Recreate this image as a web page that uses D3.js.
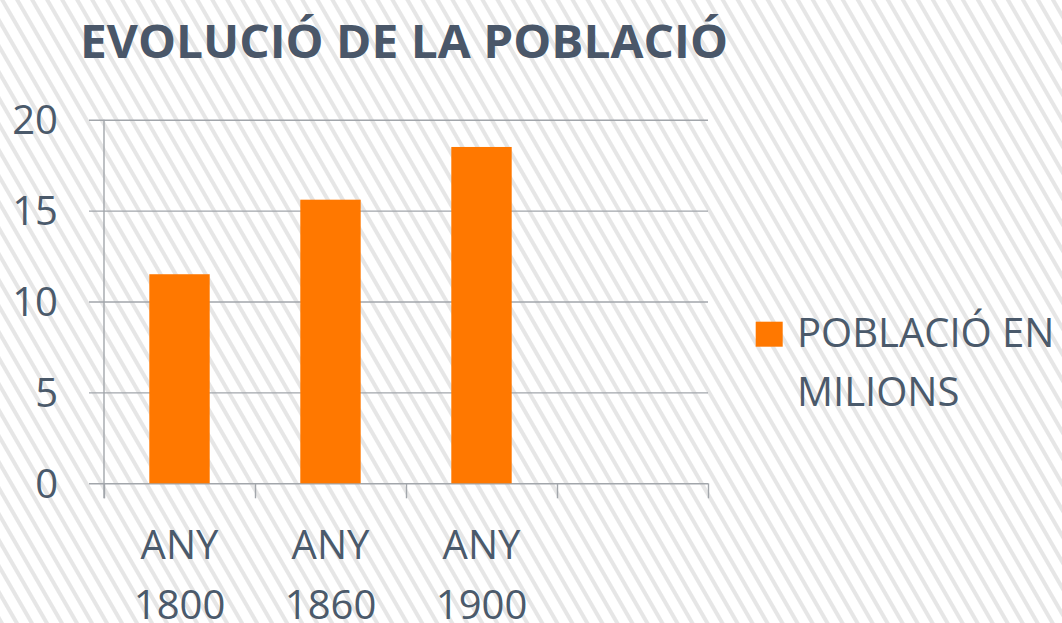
<!DOCTYPE html>
<html>
<head>
<meta charset="utf-8">
<script src="https://cdn.jsdelivr.net/npm/d3@7"></script>
<style>
  html, body { margin: 0; padding: 0; background: #fff; }
  svg { display: block; }
</style>
</head>
<body>
<svg id="chart" width="1062" height="623"></svg>
<script>
const title = "EVOLUCIÓ DE LA POBLACIÓ";
const categories = ["ANY 1800", "ANY 1860", "ANY 1900", ""];
const values = [11.5, 15.6, 18.5, null];
const yTicks = [0, 5, 10, 15, 20];
const seriesName = ["POBLACIÓ EN", "MILIONS"];

const W = 1062, H = 623;
const plot = { left: 104, right: 708, top: 119.7, bottom: 483.3 };
const textColor = "#4b5a6b";
const gridColor = "#a2a6ab";
const barColor = "#ff7800";
const font = "'Open Sans', 'DejaVu Sans', sans-serif";

const svg = d3.select("#chart");

// hatched background
const defs = svg.append("defs");
const pat = defs.append("pattern")
  .attr("id", "hatch")
  .attr("patternUnits", "userSpaceOnUse")
  .attr("width", 13).attr("height", 13)
  .attr("patternTransform", "rotate(-30)");
pat.append("rect").attr("width", 13).attr("height", 13).attr("fill", "#ffffff");
pat.append("rect").attr("x", 0).attr("width", 4).attr("height", 13).attr("fill", "#e6e6e6");
svg.append("rect").attr("width", W).attr("height", H).attr("fill", "url(#hatch)");

// scales
const x = d3.scaleBand().domain(categories).range([plot.left, plot.right]).padding(0);
const xIdx = d3.scaleLinear().domain([0, categories.length]).range([plot.left, plot.right]);
const y = d3.scaleLinear().domain([0, 20]).range([plot.bottom, plot.top]);

// gridlines + y labels
const yAxis = svg.append("g")
  .attr("transform", `translate(${plot.left - 15},0)`)
  .call(d3.axisLeft(y).tickValues(yTicks).tickSize(-(plot.right - plot.left + 15)).tickPadding(31));
yAxis.select(".domain").remove();
yAxis.selectAll(".tick line").attr("stroke", gridColor).attr("stroke-width", 1.4);
yAxis.selectAll(".tick text")
  .attr("fill", textColor).attr("font-family", font).attr("font-size", 40)
  .attr("dy", "0.35em");

// x axis tick marks at band boundaries
const xTicks = svg.append("g")
  .attr("transform", `translate(0,${plot.bottom})`)
  .call(d3.axisBottom(xIdx).tickValues(d3.range(categories.length + 1)).tickSize(15).tickFormat(""));
xTicks.select(".domain").remove();
xTicks.selectAll(".tick line").attr("stroke", gridColor).attr("stroke-width", 1.4);

// axis lines
svg.append("line")
  .attr("x1", plot.left).attr("x2", plot.left)
  .attr("y1", plot.top).attr("y2", plot.bottom + 15)
  .attr("stroke", gridColor).attr("stroke-width", 1.4);

// bars
const barW = x.bandwidth() * 0.4;
svg.append("g").selectAll("rect")
  .data(categories.map((c, i) => ({ c, v: values[i] })).filter(d => d.v != null))
  .join("rect")
  .attr("x", d => x(d.c) + x.bandwidth() / 2 - barW / 2)
  .attr("width", barW)
  .attr("y", d => y(d.v))
  .attr("height", d => y(0) - y(d.v))
  .attr("fill", barColor);

// x labels (two lines)
const xl = svg.append("g")
  .attr("transform", `translate(0,${plot.bottom})`)
  .call(d3.axisBottom(x).tickSize(0).tickFormat(""));
xl.select(".domain").remove();
xl.selectAll(".tick").each(function(d) {
  if (!d) return;
  const parts = d.split(" ");
  const t = d3.select(this).append("text")
    .attr("fill", textColor).attr("font-family", font).attr("font-size", 40)
    .attr("text-anchor", "middle");
  parts.forEach((p, i) => {
    t.append("tspan").attr("x", 0).attr("y", 76 + i * 60).text(p);
  });
});

// title
const tt = svg.append("text")
  .attr("x", 80).attr("y", 58)
  .attr("fill", "#4a5769").attr("font-family", font).attr("font-weight", 700)
  .attr("font-size", 46)
  .text(title);
const tw = tt.node().getComputedTextLength();
if (Math.abs(tw - 648) > 4) tt.attr("textLength", 648).attr("lengthAdjust", "spacingAndGlyphs");

// legend
svg.append("rect")
  .attr("x", 755.7).attr("y", 321.7).attr("width", 27).attr("height", 25)
  .attr("fill", barColor);
const lg = svg.append("text")
  .attr("fill", textColor).attr("font-family", font).attr("font-size", 40);
seriesName.forEach((s, i) => {
  lg.append("tspan").attr("x", 797).attr("y", 347 + i * 59).text(s);
});
</script>
</body>
</html>
